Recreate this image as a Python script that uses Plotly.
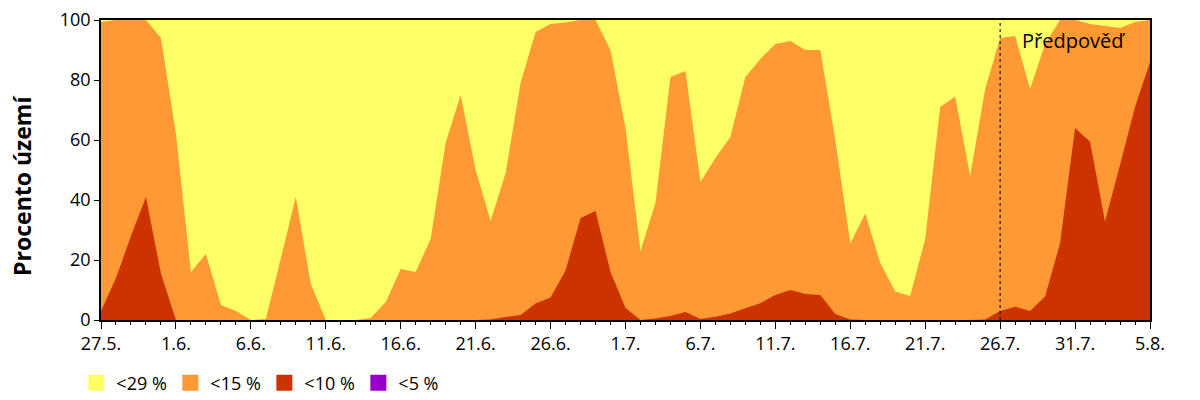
import plotly.graph_objects as go

# ---- data ----
day_labels = ["27.5.", "1.6.", "6.6.", "11.6.", "16.6.", "21.6.", "26.6.",
              "1.7.", "6.7.", "11.7.", "16.7.", "21.7.", "26.7.", "31.7.", "5.8."]
days = list(range(71))  # 27.5. .. 5.8.

pct_29 = [100] * 71

pct_15 = [99.3, 100, 100, 100, 94, 62, 16, 22, 5, 3,
          0, 0.3, 20.5, 41, 12, 0, 0, 0, 0.7, 6,
          17, 16, 27, 59, 75, 50, 33, 49, 79, 96,
          98.7, 99.2, 100, 100, 90, 64, 23, 39, 81, 83,
          46, 54, 61, 81, 87, 92, 93, 90, 90, 60,
          25.5, 35.5, 19, 9.5, 8, 27, 71, 74.5, 48, 77,
          94, 94.7, 77, 92, 100, 100, 98.7, 98, 97.3, 99.3,
          100]

pct_10 = [3, 14, 28, 41, 15.5, 0, 0, 0, 0, 0,
          0, 0, 0, 0, 0, 0, 0, 0, 0, 0,
          0, 0, 0, 0, 0, 0, 0.2, 1, 1.7, 5.5,
          7.5, 16.5, 34, 36.3, 16, 4, 0, 0.5, 1.3, 2.7,
          0.3, 1.1, 2.2, 3.9, 5.6, 8.3, 10, 8.7, 8.3, 2,
          0.2, 0, 0, 0, 0, 0, 0, 0, 0, 0.2,
          3, 4.4, 3, 7.8, 25.6, 64, 59.4, 32.8, 51.7, 71,
          86]

pct_5 = [0] * 71

series_names = ["<29 %", "<15 %", "<10 %", "<5 %"]
series_colors = ["#FFFF66", "#FF9933", "#CC3300", "#9900CC"]
forecast_day = 60
forecast_text = "Předpověď"
y_title = "Procento území"

FONT = "Open Sans"

fig = go.Figure()
for name, vals, col in zip(series_names, [pct_29, pct_15, pct_10, pct_5], series_colors):
    fig.add_trace(go.Scatter(x=days, y=vals, mode="none", fill="tozeroy",
                             fillcolor=col, showlegend=False, hoverinfo="skip"))
# legend swatches
for name, col in zip(series_names, series_colors):
    fig.add_trace(go.Scatter(x=[None], y=[None], mode="markers", name=name,
                             marker=dict(symbol="square", size=16, color=col)))

fig.add_shape(type="line", xref="x", yref="y", x0=forecast_day, x1=forecast_day,
              y0=0, y1=100, line=dict(color="black", width=1, dash="dot"))
fig.add_annotation(x=forecast_day + 1.35, y=93.3, xref="x", yref="y", text=forecast_text,
                   showarrow=False, xanchor="left", yanchor="middle",
                   font=dict(family=FONT, size=20, color="black"))
fig.add_annotation(x=-0.0753, y=0.447, xref="paper", yref="paper",
                   text="<b>" + y_title + "</b>", textangle=-90, showarrow=False,
                   xanchor="center", yanchor="middle",
                   font=dict(family=FONT, size=23, color="black"))

tick_idx = list(range(0, 71, 5))

fig.update_layout(
    width=1200, height=400,
    margin=dict(l=101, r=50, t=20, b=80, autoexpand=False),
    paper_bgcolor="white", plot_bgcolor="white",
    font=dict(family=FONT, size=18, color="black"),
    showlegend=True,
    legend=dict(orientation="h", x=-0.0235, y=-0.21, xanchor="left", yanchor="middle",
                entrywidth=49, entrywidthmode="pixels", font=dict(size=18),
                bgcolor="rgba(0,0,0,0)"),
    xaxis=dict(range=[0, 70], tickvals=tick_idx, ticktext=day_labels,
               showgrid=False, zeroline=False, showline=True, linecolor="black",
               linewidth=1.5, mirror=True, ticks="outside", ticklen=7, tickcolor="black",
               minor=dict(dtick=1, tick0=0, ticks="outside", ticklen=3, tickcolor="black",
                          showgrid=False),
               tickfont=dict(size=18)),
    yaxis=dict(range=[0, 100], tickvals=[0, 20, 40, 60, 80, 100],
               showgrid=False, zeroline=False, showline=True, linecolor="black",
               linewidth=1.5, mirror=True, ticks="outside", ticklen=5, tickcolor="black",
               tickfont=dict(size=18)),
)

fig.write_html("out.html")
